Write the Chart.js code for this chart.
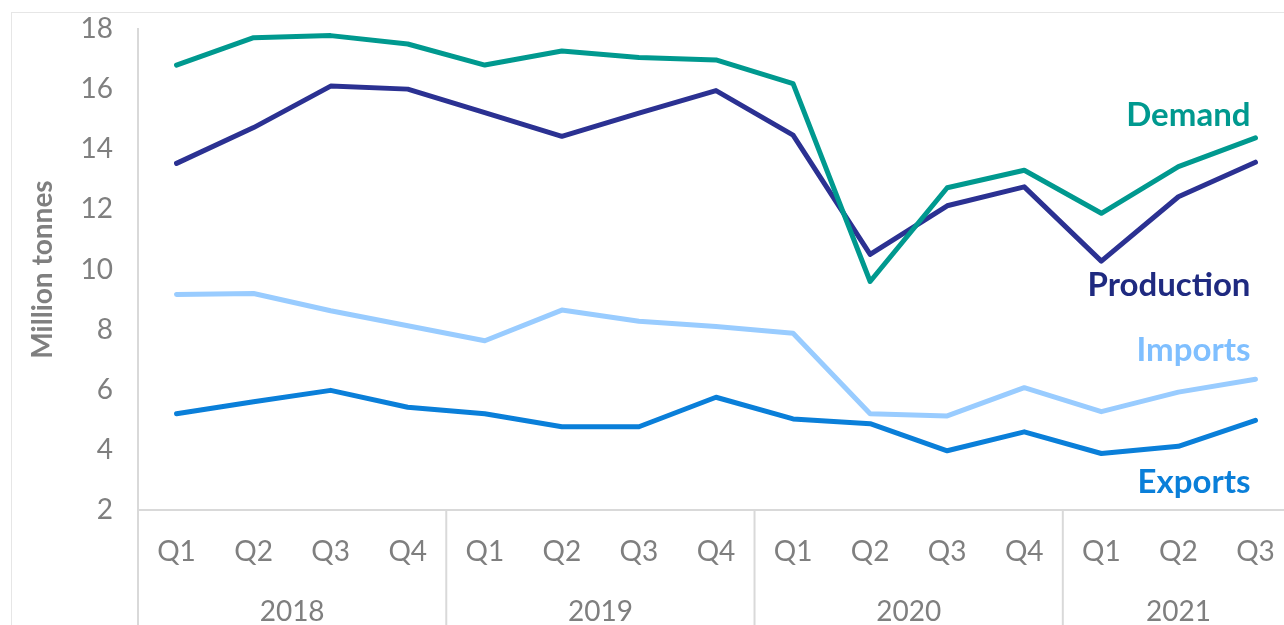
<!DOCTYPE html>
<html>
<head>
<meta charset="utf-8">
<script src="https://cdn.jsdelivr.net/npm/chart.js@4.4.1/dist/chart.umd.min.js"></script>
<style>
  html, body { margin: 0; padding: 0; background: #fff; overflow: hidden; }
  .chart__box { position: absolute; left: 0; top: 0; width: 1294px; height: 625px; }
</style>
</head>
<body>
<div class="chart__box"><canvas id="chart__trade"></canvas></div>
<script>
const quarters = ['Q1', 'Q2', 'Q3', 'Q4', 'Q1', 'Q2', 'Q3', 'Q4', 'Q1', 'Q2', 'Q3', 'Q4', 'Q1', 'Q2', 'Q3']
const years = ['2018', '2018', '2018', '2018', '2019', '2019', '2019', '2019', '2020', '2020', '2020', '2020', '2021', '2021', '2021']

const demand = [16.8, 17.71, 17.78, 17.5, 16.8, 17.27, 17.05, 16.97, 16.18, 9.6, 12.72, 13.3, 11.87, 13.42, 14.38]
const production = [13.53, 14.72, 16.1, 16.0, 15.22, 14.43, 15.2, 15.95, 14.47, 10.5, 12.12, 12.75, 10.28, 12.42, 13.57]
const imports = [9.17, 9.2, 8.63, 8.13, 7.63, 8.65, 8.28, 8.1, 7.88, 5.2, 5.13, 6.07, 5.27, 5.92, 6.35]
const exports = [5.2, 5.6, 5.98, 5.42, 5.2, 4.77, 4.77, 5.75, 5.03, 4.87, 3.97, 4.6, 3.88, 4.12, 4.98]

const seriesNames = ['Demand', 'Production', 'Imports', 'Exports']
const seriesColors = ['#00998F', '#2B3192', '#99CCFF', '#0A7FD9']
const labelColors = ['#00998F', '#1F2A80', '#7FBFFF', '#0A7FD9']
// y value where each series name sits, next to the last point
const labelAt = [15.13, 9.47, 7.3, 2.93]

const greyText = '#7F7F7F'
const axisLine = '#D9D9D9'
const fontFamily = 'Lato, "Open Sans", sans-serif'

const sideLabels = {
    id: 'sideLabels',
    beforeDraw(chart) {
        const ctx = chart.ctx
        ctx.save()
        ctx.strokeStyle = '#E6E6E6'
        ctx.lineWidth = 1
        ctx.strokeRect(11.5, 12.5, chart.width + 20, chart.height + 20)
        ctx.restore()
    },
    afterDraw(chart) {
        const ctx = chart.ctx
        const x = chart.scales.x
        const y = chart.scales.y
        const area = chart.chartArea
        ctx.save()

        // axis line keeps going down next to the category labels
        ctx.strokeStyle = axisLine
        ctx.lineWidth = 2
        ctx.beginPath()
        ctx.moveTo(area.left, area.bottom)
        ctx.lineTo(area.left, chart.height)
        ctx.stroke()

        // year groups
        let start = 0
        for (let i = 1; i <= years.length; i++) {
            if (i === years.length || years[i] !== years[start]) {
                const right = i === years.length ? area.right : (x.getPixelForValue(i - 1) + x.getPixelForValue(i)) / 2
                if (i < years.length) {
                    ctx.beginPath()
                    ctx.moveTo(right, area.bottom)
                    ctx.lineTo(right, chart.height)
                    ctx.stroke()
                }
                ctx.fillStyle = greyText
                ctx.font = '28px ' + fontFamily
                ctx.textAlign = 'center'
                ctx.textBaseline = 'middle'
                const mid = (x.getPixelForValue(start) + x.getPixelForValue(i - 1)) / 2
                ctx.fillText(years[start], mid, area.bottom + 102)
                start = i
            }
        }

        // series names at the right end
        ctx.font = 'bold 33px ' + fontFamily
        ctx.textAlign = 'right'
        ctx.textBaseline = 'middle'
        const lastX = x.getPixelForValue(quarters.length - 1) - 5
        seriesNames.forEach((name, i) => {
            ctx.fillStyle = labelColors[i]
            ctx.fillText(name, lastX, y.getPixelForValue(labelAt[i]))
        })
        ctx.restore()
    }
}

const makeSet = (label, data, color) => ({
    label: label,
    data: data,
    borderColor: color,
    backgroundColor: color,
    borderWidth: 5,
    pointRadius: 0,
    tension: 0,
    borderCapStyle: 'round',
    borderJoinStyle: 'round'
})

new Chart(document.getElementById('chart__trade'), {
    type: 'line',
    data: {
        labels: quarters,
        datasets: [
            makeSet(seriesNames[0], demand, seriesColors[0]),
            makeSet(seriesNames[1], production, seriesColors[1]),
            makeSet(seriesNames[2], imports, seriesColors[2]),
            makeSet(seriesNames[3], exports, seriesColors[3])
        ]
    },
    options: {
        responsive: true,
        maintainAspectRatio: false,
        animation: false,
        layout: { padding: { top: 29, right: 0, left: 0, bottom: 0 } },
        plugins: {
            legend: { display: false },
            tooltip: { enabled: false }
        },
        scales: {
            x: {
                offset: true,
                grid: { display: false, drawTicks: false },
                border: { display: true, color: axisLine, width: 2 },
                ticks: {
                    color: greyText,
                    padding: 25,
                    maxRotation: 0,
                    autoSkip: false,
                    font: { family: fontFamily, size: 28 }
                },
                afterFit(scale) {
                    scale.height = 115
                    scale.paddingLeft = 0
                    scale.paddingRight = 0
                }
            },
            y: {
                min: 2,
                max: 18,
                grid: { display: false, drawTicks: false },
                border: { display: true, color: axisLine, width: 2 },
                ticks: {
                    stepSize: 2,
                    color: greyText,
                    padding: 25,
                    font: { family: fontFamily, size: 28 }
                },
                title: {
                    display: true,
                    text: 'Million tonnes',
                    color: greyText,
                    padding: { top: 26, bottom: 0 },
                    font: { family: fontFamily, size: 28, weight: 'bold' }
                },
                afterFit(scale) {
                    scale.width = 138
                    scale.paddingTop = 0
                    scale.paddingBottom = 0
                }
            }
        }
    },
    plugins: [sideLabels]
})
</script>
</body>
</html>
